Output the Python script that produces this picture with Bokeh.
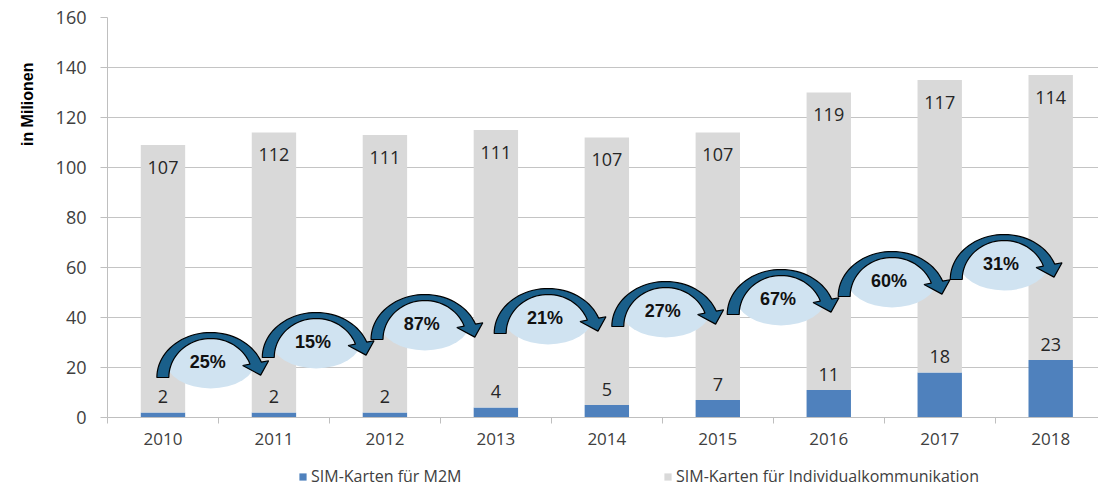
import math
import numpy as np
from bokeh.plotting import figure
from bokeh.layouts import column
from bokeh.models import ColumnDataSource, Range1d, FixedTicker, Legend, LegendItem, Title
from bokeh.core.properties import value
from bokeh.embed import file_html
from bokeh.resources import INLINE

# ---------------- data ----------------
years = ["2010", "2011", "2012", "2013", "2014", "2015", "2016", "2017", "2018"]
m2m = [2, 2, 2, 4, 5, 7, 11, 18, 23]
individual = [107, 112, 111, 111, 107, 107, 119, 117, 114]
growth_labels = ["25%", "15%", "87%", "21%", "27%", "67%", "60%", "31%"]
# annotation anchor positions (category units / Millionen)
growth_x = [0.43, 1.38, 2.36, 3.47, 4.53, 5.57, 6.57, 7.58]
growth_y = [22.8, 30.8, 38.0, 40.4, 43.2, 48.0, 55.2, 62.0]
y_ticks = [0, 20, 40, 60, 80, 100, 120, 140, 160]
series_names = ["SIM-Karten für M2M", "SIM-Karten für Individualkommunikation"]

# ---------------- style ----------------
BLUE = "#4f81bd"
GRAY = "#d9d9d9"
GRID = "#c4c4c4"
TXT = "#404040"
ELL = "#d0e3f1"
ARROW = "#1a5f8a"

W = 1098
H_MAIN, H_LEG = 458, 30
LEFT, RIGHT, TOP, BOTTOM = 104, 0, 17, 41
FRAME_W = W - LEFT - RIGHT
FRAME_H = H_MAIN - TOP - BOTTOM
CAT_PX = 111.3
X0 = -0.5
X1 = X0 + FRAME_W / CAT_PX
PPX = CAT_PX
PPY = FRAME_H / 160.0

p = figure(width=W, height=H_MAIN, output_backend="svg", toolbar_location=None,
           title=None, x_range=Range1d(X0, X1), y_range=Range1d(0, 160),
           min_border_left=LEFT, min_border_right=RIGHT,
           min_border_top=TOP, min_border_bottom=BOTTOM)
p.outline_line_color = None
p.background_fill_color = "white"
p.xgrid.grid_line_color = None
p.ygrid.grid_line_color = GRID
p.ygrid.grid_line_width = 1

xs = list(range(len(years)))
totals = [a + b for a, b in zip(m2m, individual)]
src = ColumnDataSource(dict(
    x=xs, m2m=m2m, ind=individual, total=totals,
    m2m_txt=[str(v) for v in m2m], ind_txt=[str(v) for v in individual],
))

rs = p.vbar_stack(["m2m", "ind"], x="x", width=0.4, source=src,
                  fill_color=[BLUE, GRAY], line_color=None)

# value labels
p.text(x="x", y="m2m", text="m2m_txt", source=src, y_offset=-16,
       text_align="center", text_baseline="middle",
       text_font=value("Open Sans"), text_font_size="18px", text_color="#262626")
p.text(x="x", y="total", text="ind_txt", source=src, y_offset=22,
       text_align="center", text_baseline="middle",
       text_font=value("Open Sans"), text_font_size="18px", text_color="#262626")

# growth ellipses
p.ellipse(x=growth_x, y=growth_y, width=90, height=56,
          width_units="screen", height_units="screen",
          fill_color=ELL, line_color=None)


# curved arrows (shape in screen px relative to ellipse centre, y down)
def arrow_shape(cx, cy):
    ccy = 17.0
    ro = (54.0, 45.0)
    ri = (42.0, 39.0)
    th_end = 20.0
    pts = []
    for th in np.linspace(180, th_end, 40):
        t = math.radians(th)
        pts.append((ro[0] * math.cos(t), ccy - ro[1] * math.sin(t)))
    t = math.radians(th_end)
    O = (ro[0] * math.cos(t), ccy - ro[1] * math.sin(t))
    I = (ri[0] * math.cos(t), ccy - ri[1] * math.sin(t))
    d = (O[0] - I[0], O[1] - I[1])
    dl = math.hypot(*d)
    d = (d[0] / dl, d[1] / dl)
    ext = 7.5
    Op = (O[0] + ext * d[0], O[1] + ext * d[1])
    Ip = (I[0] - ext * d[0], I[1] - ext * d[1])
    mid = ((O[0] + I[0]) / 2, (O[1] + I[1]) / 2)
    rm = ((ro[0] + ri[0]) / 2, (ro[1] + ri[1]) / 2)
    tg = (rm[0] * math.sin(t), rm[1] * math.cos(t))
    tl = math.hypot(*tg)
    tg = (tg[0] / tl, tg[1] / tl)
    tip = (mid[0] + 13 * tg[0], mid[1] + 13 * tg[1])
    pts += [Op, tip, Ip]
    for th in np.linspace(th_end, 180, 40):
        t = math.radians(th)
        pts.append((ri[0] * math.cos(t), ccy - ri[1] * math.sin(t)))
    ax = [cx + px / PPX for px, py in pts]
    ay = [cy - py / PPY for px, py in pts]
    return ax, ay


arr_xs, arr_ys = [], []
for gx, gy in zip(growth_x, growth_y):
    a, b = arrow_shape(gx, gy)
    arr_xs.append(a)
    arr_ys.append(b)
p.patches(arr_xs, arr_ys, fill_color=ARROW, line_color="black", line_width=1.2)

p.text(x=growth_x, y=growth_y, text=growth_labels, x_offset=-3, y_offset=1,
       text_align="center", text_baseline="middle",
       text_font=value("Liberation Sans"), text_font_style="bold",
       text_font_size="18px", text_color="#111111")

# axes
xa = p.xaxis[0]
xa.ticker = FixedTicker(ticks=xs, minor_ticks=[i - 0.5 for i in range(len(years) + 1)])
xa.major_label_overrides = {i: y for i, y in enumerate(years)}
xa.major_tick_out = 0
xa.major_tick_in = 0
xa.minor_tick_out = 6
xa.minor_tick_in = 0
xa.minor_tick_line_color = "#bfbfbf"
xa.axis_line_color = "#bfbfbf"
xa.major_label_standoff = 9
xa.major_label_text_font = "Open Sans"
xa.major_label_text_font_size = "17px"
xa.major_label_text_color = TXT

ya = p.yaxis[0]
ya.ticker = FixedTicker(ticks=y_ticks, minor_ticks=[])
ya.major_tick_out = 7
ya.major_tick_in = 0
ya.major_tick_line_color = "#bfbfbf"
ya.axis_line_color = "#bfbfbf"
ya.major_label_standoff = 14
ya.major_label_text_font = "Open Sans"
ya.major_label_text_font_size = "18px"
ya.major_label_text_color = TXT

p.add_layout(Title(text="in Milionen", align="right", offset=45,
                   text_font="Liberation Sans", text_font_style="bold",
                   text_font_size="16px", text_color="black", standoff=33), "left")

# ---------------- legend strip (same series, drawn out of view) ----------------
pl = figure(width=W, height=H_LEG, output_backend="svg", toolbar_location=None,
            title=None, x_axis_type=None, y_axis_type=None,
            x_range=Range1d(X0, X1), y_range=Range1d(1000, 1001),
            min_border_left=0, min_border_right=0, min_border_top=0, min_border_bottom=0)
pl.outline_line_color = None
rl = pl.vbar_stack(["m2m", "ind"], x="x", width=0.4, source=src,
                   fill_color=[BLUE, GRAY], line_color=None)
legend = Legend(items=[LegendItem(label=series_names[0], renderers=[rl[0]]),
                       LegendItem(label=series_names[1], renderers=[rl[1]])],
                orientation="horizontal", location=(191, 1),
                glyph_width=9, glyph_height=9, label_standoff=4,
                label_width=349, spacing=3,
                padding=0, margin=0, border_line_color=None,
                background_fill_alpha=0,
                label_text_font="Open Sans", label_text_font_size="16px",
                label_text_color=TXT)
pl.add_layout(legend, "center")

layout = column(p, pl, spacing=0)
open("out.html", "w").write(file_html(layout, INLINE))
